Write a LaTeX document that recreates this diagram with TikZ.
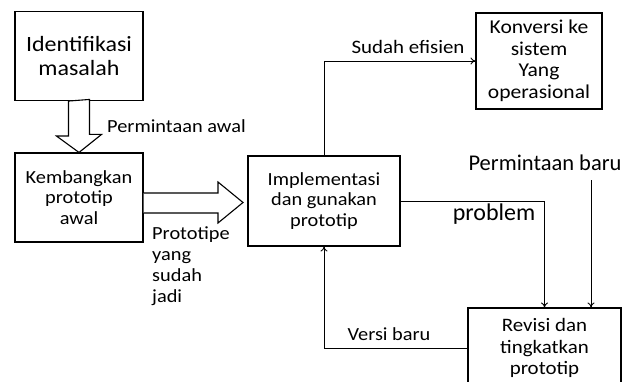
\documentclass[tikz,border=0pt]{standalone}
\usepackage{fontspec}
\setmainfont{Carlito}[FakeStretch=1.1]
\newfontfamily\plainfont{Carlito}
\usetikzlibrary{arrows.meta}
\usetikzlibrary{positioning}

\tikzset{
  stepbox/.style={draw, line width=1.1pt, inner sep=0pt, align=center,
    font=\fontsize{18.5}{20.5}\selectfont},
  flowline/.style={line width=0.9pt, -{To[length=5pt,width=7pt]}},
  lbl/.style={inner sep=0pt, font=\fontsize{18.5}{21}\selectfont},
  bigarrow/.style={draw, line width=1.1pt, fill=white}
}

\begin{document}
\begin{tikzpicture}[x=1pt,y=-1pt]
        \useasboundingbox (0,0) rectangle (644,382);
        \clip (0,0) rectangle (644,382);
        % boxes
        \node[stepbox, minimum width=128pt, minimum height=89pt,
          font=\fontsize{21.8}{23.5}\selectfont] (ident) at (79,56) {Identifikasi\\masalah};
        \node[stepbox, minimum width=128pt, minimum height=89pt] (kemb) at (79,197.5) {Kembangkan\\prototip\\awal};
        \node[stepbox, minimum width=152pt, minimum height=90pt] (impl) at (324,201) {Implementasi\\dan gunakan\\prototip};
        \node[stepbox, minimum width=126pt, minimum height=96pt,
          font=\fontsize{19.6}{21.5}\selectfont] (konv) at (539,61) {Konversi ke\\sistem\\Yang\\operasional};
        \node[stepbox, minimum width=153pt, minimum height=80pt,
          font=\fontsize{19}{21.5}\selectfont] (rev) at (544.5,348) {Revisi dan\\tingkatkan\\prototip};

        % block arrows
        \draw[bigarrow] (ident.south) ++(-10.5,0) -- ++(0,35) -- ++(-12,0) -- (kemb.north)
          -- ++(22.5,-18) -- ++(-12,0) -- ++(0,-35) -- cycle;
        \draw[bigarrow] (kemb.east |- 0,193) -- (218,193) -- (218,182) -- (243,202.5)
          -- (218,223) -- (218,213) -- (kemb.east |- 0,213);

        % connectors
        \coordinate (bstart) at (591,180);
        \draw[flowline] (impl.north) |- (konv.west);
        \draw[flowline] (impl.east) -| (rev.north);
        \draw[flowline] (bstart) -- (bstart |- rev.north);
        \draw[flowline] (rev.west) -| (impl.south);

        % labels
        \node[lbl, anchor=west] (awal) at (107,126) {Permintaan awal};
        \node[lbl, anchor=north west, align=left] (jadi) at (152,227)
          {Prototipe\\yang\\sudah\\jadi};
        \node[lbl, font=\fontsize{19}{21}\selectfont] (efis) at (408,47) {Sudah efisien};
        \node[lbl, font=\plainfont\fontsize{22.5}{24}\selectfont] (baru) at (545,163) {Permintaan baru};
        \node[lbl, font=\plainfont\fontsize{24}{24}\selectfont] (prob) at (494,214) {problem};
        \node[lbl] (versi) at (389,334) {Versi baru};
\end{tikzpicture}
\end{document}
